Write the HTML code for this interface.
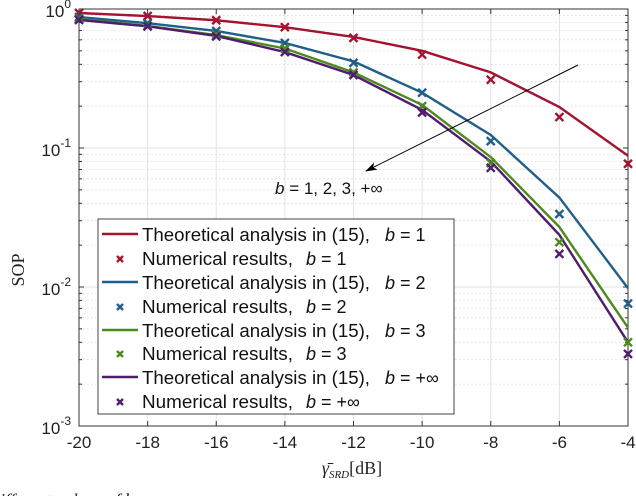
<!DOCTYPE html>
<html><head><meta charset="utf-8"><style>
html,body{margin:0;padding:0;background:#fff;width:636px;height:496px;overflow:hidden}
svg{display:block;font-family:"Liberation Sans",sans-serif}
</style></head><body>
<svg id="chart" width="636" height="496" viewBox="0 0 636 496" xmlns="http://www.w3.org/2000/svg"></svg>
<script>
const xValues=[-20,-18,-16,-14,-12,-10,-8,-6,-4];
const xTicks=[-20,-18,-16,-14,-12,-10,-8,-6,-4];
const yDecades=[0,-1,-2,-3];
const theoB1=[0.936,0.89,0.83,0.74,0.63,0.50,0.35,0.197,0.088];
const numB1=[0.936,0.89,0.83,0.74,0.62,0.47,0.31,0.167,0.077];
const theoB2=[0.875,0.79,0.695,0.57,0.42,0.25,0.124,0.044,0.0098];
const numB2=[0.875,0.79,0.695,0.57,0.41,0.25,0.112,0.0335,0.0076];
const theoB3=[0.85,0.755,0.65,0.52,0.35,0.204,0.086,0.027,0.0051];
const numB3=[0.85,0.755,0.65,0.52,0.35,0.20,0.078,0.021,0.0040];
const theoBinf=[0.835,0.75,0.64,0.49,0.335,0.188,0.08,0.0237,0.0040];
const numBinf=[0.835,0.75,0.635,0.49,0.335,0.18,0.072,0.0173,0.0033];
const seriesNames=["b1","b2","b3","binf"];
const colors=["#a2142f","#1f5f8b","#4d8a1e","#4f1c6e"];

const L=79,R=628,T=9,B=426;
const xs=v=>L+(v-(-20))/16*(R-L);
const ys=v=>T+(-Math.log10(v))/3*(B-T);
const svg=document.getElementById('chart');
const NS="http://www.w3.org/2000/svg";
function mk(tag,attrs,parent){const e=document.createElementNS(NS,tag);for(const k in attrs)e.setAttribute(k,attrs[k]);(parent||svg).appendChild(e);return e;}

const grid=mk('g',{});


for(const t of xTicks){mk('line',{x1:xs(t),x2:xs(t),y1:T,y2:B,stroke:'#e3e3e3','stroke-width':1},grid);}
for(let d=0;d>-3;d--){for(let m=2;m<=9;m++){const v=m*Math.pow(10,d-1);const y=ys(v);mk('line',{x1:L,x2:R,y1:y,y2:y,stroke:'#d8d8d8','stroke-width':0.8,'stroke-dasharray':'1.5,2.5'},grid);}}
for(const d of yDecades){const y=ys(Math.pow(10,d));mk('line',{x1:L,x2:R,y1:y,y2:y,stroke:'#e3e3e3','stroke-width':1},grid);}

const box=mk('rect',{x:L,y:T,width:R-L,height:B-T,fill:'none',stroke:'#333','stroke-width':1});


for(const t of xTicks){const x=xs(t);mk('line',{x1:x,x2:x,y1:B,y2:B-5,stroke:'#333'});mk('line',{x1:x,x2:x,y1:T,y2:T+5,stroke:'#333'});
 const tx=mk('text',{x:x,y:B+22,'text-anchor':'middle','font-size':17,fill:'#222'});tx.textContent=t;
 
 }
for(let d=0;d>-3;d--){for(let m=2;m<=9;m++){const y=ys(m*Math.pow(10,d-1));mk('line',{x1:L,x2:L+3,y1:y,y2:y,stroke:'#333'});mk('line',{x1:R,x2:R-3,y1:y,y2:y,stroke:'#333'});}}
for(const d of yDecades){const y=ys(Math.pow(10,d));mk('line',{x1:L,x2:L+5,y1:y,y2:y,stroke:'#333'});mk('line',{x1:R,x2:R-5,y1:y,y2:y,stroke:'#333'});
 const tx=mk('text',{x:L-8,y:y+8,'text-anchor':'end','font-size':17,fill:'#222'});
 
 
 tx.appendChild(document.createTextNode('10'));const s=mk('tspan',{dy:-9,'font-size':12},tx);s.textContent=String(d);}

const theo=[theoB1,theoB2,theoB3,theoBinf];const num=[numB1,numB2,numB3,numBinf];
theo.forEach((arr,i)=>{const p=mk('polyline',{points:arr.map((v,j)=>xs(xValues[j])+','+ys(v)).join(' '),fill:'none',stroke:colors[i],'stroke-width':2.4});
 
 });
num.forEach((arr,i)=>{arr.forEach((v,j)=>{const x=xs(xValues[j]),y=ys(v);const g=mk('path',{d:`M${x-4},${y-4}L${x+4},${y+4}M${x-4},${y+4}L${x+4},${y-4}`,stroke:colors[i],'stroke-width':2.4});
 
 });});
</script>
<svg style="position:absolute;left:0;top:0" width="636" height="496">
<defs><marker id="ah" markerWidth="12" markerHeight="8" refX="11" refY="4" orient="auto" markerUnits="userSpaceOnUse"><path d="M0,0L12,4L0,8L3,4z" fill="#000"/></marker></defs>
<line x1="578" y1="65" x2="366" y2="171" stroke="#000" stroke-width="1" marker-end="url(#ah)"/>
<text x="275" y="194" font-family="Liberation Sans, sans-serif" font-size="17" fill="#111"><tspan font-style="italic">b</tspan> = 1, 2, 3, +∞</text>
<g>
<rect x="98" y="219" width="356" height="195" fill="#fff" stroke="#444" stroke-width="1"/>
<g font-family="Liberation Sans, sans-serif" font-size="18" fill="#111">
<line x1="102" x2="138" y1="234" y2="234" stroke="#a2142f" stroke-width="2.4"/><text x="142" y="241" textLength="228" lengthAdjust="spacingAndGlyphs">Theoretical analysis in (15),</text><text x="385" y="241"><tspan font-style="italic">b</tspan> = 1</text>
<path d="M117,256l6,6m-6,0l6,-6" stroke="#a2142f" stroke-width="2.4"/><text x="142" y="265" textLength="151" lengthAdjust="spacingAndGlyphs">Numerical results,</text><text x="306" y="265"><tspan font-style="italic">b</tspan> = 1</text>
<line x1="102" x2="138" y1="282" y2="282" stroke="#1f5f8b" stroke-width="2.4"/><text x="142" y="289" textLength="228" lengthAdjust="spacingAndGlyphs">Theoretical analysis in (15),</text><text x="385" y="289"><tspan font-style="italic">b</tspan> = 2</text>
<path d="M117,304l6,6m-6,0l6,-6" stroke="#1f5f8b" stroke-width="2.4"/><text x="142" y="313" textLength="151" lengthAdjust="spacingAndGlyphs">Numerical results,</text><text x="306" y="313"><tspan font-style="italic">b</tspan> = 2</text>
<line x1="102" x2="138" y1="330" y2="330" stroke="#4d8a1e" stroke-width="2.4"/><text x="142" y="337" textLength="228" lengthAdjust="spacingAndGlyphs">Theoretical analysis in (15),</text><text x="385" y="337"><tspan font-style="italic">b</tspan> = 3</text>
<path d="M117,351l6,6m-6,0l6,-6" stroke="#4d8a1e" stroke-width="2.4"/><text x="142" y="360" textLength="151" lengthAdjust="spacingAndGlyphs">Numerical results,</text><text x="306" y="360"><tspan font-style="italic">b</tspan> = 3</text>
<line x1="102" x2="138" y1="377" y2="377" stroke="#4f1c6e" stroke-width="2.4"/><text x="142" y="384" textLength="228" lengthAdjust="spacingAndGlyphs">Theoretical analysis in (15),</text><text x="385" y="384"><tspan font-style="italic">b</tspan> = +∞</text>
<path d="M117,399l6,6m-6,0l6,-6" stroke="#4f1c6e" stroke-width="2.4"/><text x="142" y="408" textLength="151" lengthAdjust="spacingAndGlyphs">Numerical results,</text><text x="306" y="408"><tspan font-style="italic">b</tspan> = +∞</text>
</g></g>
<text transform="translate(24,270) rotate(-90)" text-anchor="middle" font-family="Liberation Serif, serif" font-size="18" fill="#222">SOP</text>
<text x="352" y="474" text-anchor="middle" font-family="Liberation Serif, serif" font-size="18" fill="#222"><tspan font-style="italic">γ̄</tspan><tspan font-style="italic" font-size="11" dy="4">SRD</tspan><tspan dy="-4">[dB]</tspan></text>
<text x="0" y="506" font-family="Liberation Serif, serif" font-size="18" font-style="italic" fill="#222">ifferent values of b</text>
</svg>
</body></html>
